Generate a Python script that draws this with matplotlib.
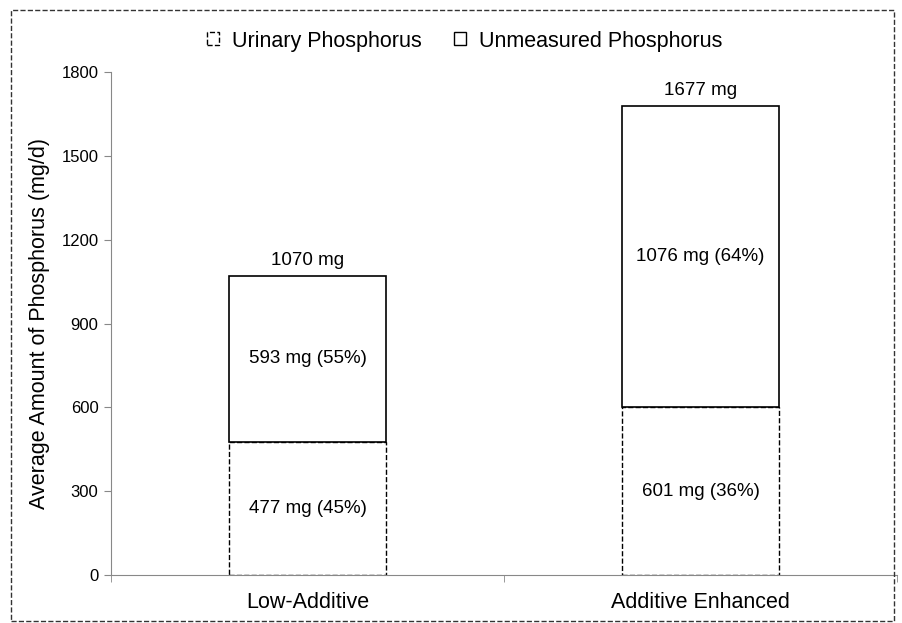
import matplotlib
matplotlib.use("Agg")
import matplotlib.pyplot as plt
from matplotlib.patches import Patch, Rectangle

plt.rcParams['font.family'] = ['Liberation Sans', 'DejaVu Sans']

groups = ['Low-Additive', 'Additive Enhanced']
urinary = [477, 601]
unmeasured = [593, 1076]
urinary_pct = [45, 36]
unmeasured_pct = [55, 64]
totals = [1070, 1677]
yticks = [0, 300, 600, 900, 1200, 1500, 1800]

fig = plt.figure(figsize=(9.02, 6.23), dpi=100)
ax = fig.add_axes([111/902, 48/623, 786/902, 503/623])

x = range(len(groups))
ax.bar(x, urinary, width=0.4, facecolor='white', edgecolor='black',
       linestyle='--', linewidth=1)
ax.bar(x, unmeasured, bottom=urinary, width=0.4, facecolor='white',
       edgecolor='black', linewidth=1.2)

for i in x:
    ax.text(i, urinary[i] / 2, f'{urinary[i]} mg ({urinary_pct[i]}%)',
            ha='center', va='center', fontsize=13.5)
    ax.text(i, urinary[i] + unmeasured[i] / 2,
            f'{unmeasured[i]} mg ({unmeasured_pct[i]}%)',
            ha='center', va='center', fontsize=13.5)
    ax.annotate(f'{totals[i]} mg', (i, totals[i]), xytext=(0, 5),
                textcoords='offset points', ha='center', va='bottom',
                fontsize=13.5)

ax.set_xlim(-0.5, 1.5)
ax.set_ylim(0, 1800)
ax.set_yticks(yticks)
ax.set_xticks(list(x))
ax.set_xticklabels(groups, fontsize=15.5)
ax.set_xticks([-0.5, 0.5, 1.5], minor=True)
ax.tick_params(axis='x', which='major', length=0, pad=12)
ax.tick_params(axis='x', which='minor', length=5, color='#888888', direction='out')
ax.tick_params(axis='y', length=5, color='#888888', labelsize=12, pad=4)
ax.set_ylabel('Average Amount of Phosphorus (mg/d)', fontsize=15.5, labelpad=8)

for s in ['top', 'right']:
    ax.spines[s].set_visible(False)
for s in ['left', 'bottom']:
    ax.spines[s].set_color('#888888')

handles = [Patch(facecolor='white', edgecolor='black', linestyle='--', linewidth=1),
           Patch(facecolor='white', edgecolor='black', linewidth=1)]
fig.legend(handles, ['Urinary Phosphorus', 'Unmeasured Phosphorus'],
           loc='center', bbox_to_anchor=(0.515, 1 - 41/623), ncol=2, frameon=False,
           fontsize=15.5, handlelength=0.55, handleheight=0.55, columnspacing=1.5,
           handletextpad=0.6)

fig.patches.append(Rectangle((11/902, 2/623), 883/902, 611/623,
                             transform=fig.transFigure, fill=False,
                             edgecolor='#333333', linestyle='--', linewidth=1))

fig.savefig('out.png', dpi=100)
